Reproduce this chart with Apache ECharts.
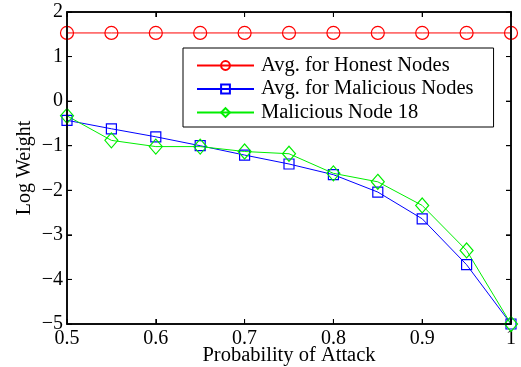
<!DOCTYPE html>
<html><head><meta charset="utf-8">
<script src="https://cdn.jsdelivr.net/npm/echarts@6/dist/echarts.min.js"></script>
<style>html,body{margin:0;padding:0;background:#fff}#c{width:521px;height:367px}</style>
</head><body><div id="c"></div>
<script>
const xValues = [0.5, 0.55, 0.6, 0.65, 0.7, 0.75, 0.8, 0.85, 0.9, 0.95, 1.0];
const honest = [1.53, 1.53, 1.53, 1.53, 1.53, 1.53, 1.53, 1.53, 1.53, 1.53, 1.53];
const malicious = [-0.43, -0.62, -0.80, -1.00, -1.21, -1.41, -1.65, -2.04, -2.64, -3.67, -5.0];
const node18 = [-0.33, -0.88, -1.02, -1.02, -1.13, -1.18, -1.62, -1.81, -2.34, -3.35, -5.0];
const names = ['Avg. for Honest Nodes', 'Avg. for Malicious Nodes', 'Malicious Node 18'];
const xTicks = [0.5, 0.6, 0.7, 0.8, 0.9, 1.0];
const yTicks = [-5, -4, -3, -2, -1, 0, 1, 2];

const font = 'Liberation Serif, Times New Roman, serif';
const ink = '#000';
const pair = a => xValues.map((x, i) => [x, a[i]]);
const minus = v => String(v).replace('-', '\u2212');
const xLine = () => ({show: true, onZero: false, lineStyle: {color: ink, width: 1.5}});
const yLine = () => ({show: true, lineStyle: {color: ink, width: 1.5}});
const tickIn = () => ({show: true, inside: true, length: 5, lineStyle: {color: ink, width: 1}});

const chart = echarts.init(document.getElementById('c'));
chart.setOption({
  animation: false,
  grid: {left: 67, right: 10, top: 12, bottom: 43, outerBoundsMode: 'none'},
  legend: {
    left: 183, top: 48, orient: 'vertical', z: 10,
    padding: [7, 20, 4, 13], itemGap: 2.5, itemWidth: 57, itemHeight: 11,
    borderColor: '#000', borderWidth: 1, backgroundColor: '#fff',
    textStyle: {fontFamily: font, fontSize: 20.5, lineHeight: 20, color: '#000', padding: [0, 0, 0, 2]},
    data: names
  },
  xAxis: [{
    type: 'value', min: 0.5, max: 1, interval: 0.1,
    name: 'Probability of Attack', nameLocation: 'middle', nameGap: 21, nameMoveOverlap: false,
    nameTextStyle: {fontFamily: font, fontSize: 20.5, color: '#000'},
    axisLine: xLine(), axisTick: tickIn(), splitLine: {show: false},
    axisLabel: {fontFamily: font, fontSize: 20, color: '#000', margin: 5,
      formatter: v => (Math.abs(v - 1) < 1e-9 ? '1' : v.toFixed(1))}
  }, {
    type: 'value', min: 0.5, max: 1, interval: 0.1, position: 'top',
    axisLine: xLine(), axisTick: tickIn(), axisLabel: {show: false}, splitLine: {show: false}
  }],
  yAxis: [{
    type: 'value', min: -5, max: 2, interval: 1,
    name: 'Log Weight', nameLocation: 'middle', nameGap: 32, nameMoveOverlap: false,
    nameTextStyle: {fontFamily: font, fontSize: 20, color: '#000'},
    axisLine: yLine(), axisTick: tickIn(), splitLine: {show: false},
    axisLabel: {fontFamily: font, fontSize: 20, color: '#000', margin: 4, formatter: minus}
  }, {
    type: 'value', min: -5, max: 2, interval: 1, position: 'right',
    axisLine: yLine(), axisTick: tickIn(), axisLabel: {show: false}, splitLine: {show: false}
  }],
  series: [
    {name: names[0], type: 'line', data: pair(honest), symbol: 'circle', symbolSize: 13,
      color: '#ff0000', lineStyle: {width: 1, color: '#ff0000'}, itemStyle: {color: 'rgba(0,0,0,0)', borderColor: '#ff0000', borderWidth: 1.2}},
    {name: names[1], type: 'line', data: pair(malicious), symbol: 'rect', symbolSize: 10,
      color: '#0000ff', lineStyle: {width: 1, color: '#0000ff'}, itemStyle: {color: 'rgba(0,0,0,0)', borderColor: '#0000ff', borderWidth: 1.2}},
    {name: names[2], type: 'line', data: pair(node18), symbol: 'diamond', symbolSize: [13, 15],
      color: '#00ee00', lineStyle: {width: 1, color: '#00ee00'}, itemStyle: {color: 'rgba(0,0,0,0)', borderColor: '#00ee00', borderWidth: 1.2}}
  ]
});

// Frame and inward ticks, positioned through the chart's own scales
const px = (x, y) => chart.convertToPixel({gridIndex: 0}, [x, y]);
const tl = px(0.5, 2), br = px(1, -5);
const els = [{
  type: 'rect', z: 100, silent: true,
  shape: {x: tl[0], y: tl[1], width: br[0] - tl[0], height: br[1] - tl[1]},
  style: {fill: null, stroke: '#000', lineWidth: 1.5}
}];
const T = 5;
xTicks.forEach(v => {
  const xp = px(v, 0)[0];
  els.push({type: 'line', z: 100, silent: true, shape: {x1: xp, y1: br[1], x2: xp, y2: br[1] - T}, style: {stroke: '#000', lineWidth: 1}});
  els.push({type: 'line', z: 100, silent: true, shape: {x1: xp, y1: tl[1], x2: xp, y2: tl[1] + T}, style: {stroke: '#000', lineWidth: 1}});
});
yTicks.forEach(v => {
  const yp = px(0.5, v)[1];
  els.push({type: 'line', z: 100, silent: true, shape: {x1: tl[0], y1: yp, x2: tl[0] + T, y2: yp}, style: {stroke: '#000', lineWidth: 1}});
  els.push({type: 'line', z: 100, silent: true, shape: {x1: br[0], y1: yp, x2: br[0] - T, y2: yp}, style: {stroke: '#000', lineWidth: 1}});
});
chart.setOption({graphic: {elements: els}});
</script></body></html>
